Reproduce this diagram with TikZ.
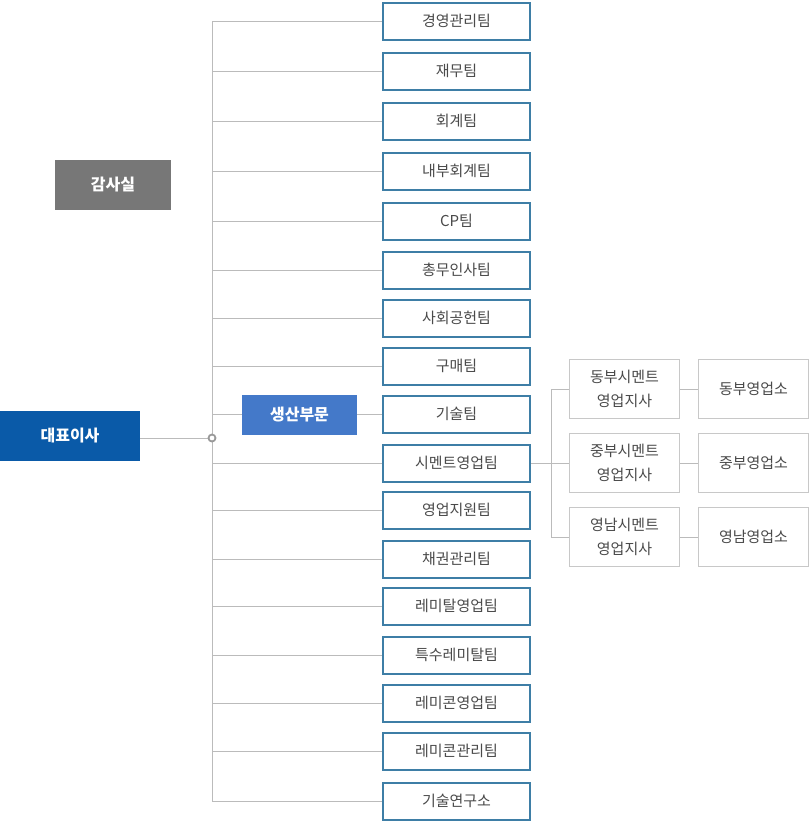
\documentclass[tikz,border=0pt]{standalone}
\usepackage{fontspec}
\setmainfont{Noto Sans CJK KR}
\definecolor{teamblue}{HTML}{3E7EA6}
\definecolor{linegray}{HTML}{BBBBBB}
\definecolor{boxgray}{HTML}{C8C8C8}
\definecolor{txtgray}{HTML}{4A4A4A}
\definecolor{ceoblue}{HTML}{0A5AA8}
\definecolor{genblue}{HTML}{4479C9}
\definecolor{auditgray}{HTML}{777777}
\tikzset{
  team/.style={draw=teamblue, line width=2pt, fill=white, minimum width=147pt, minimum height=37pt, inner sep=0pt, text=txtgray, font=\fontsize{15}{17}\selectfont},
  branch/.style={draw=boxgray, line width=1pt, fill=white, minimum width=110pt, minimum height=59pt, inner sep=0pt, text=txtgray, align=center, font=\fontsize{15}{24}\selectfont},
  solid box/.style={minimum width=#1, inner sep=0pt, text=white, font=\fontsize{16}{18}\selectfont\bfseries},
  conn/.style={draw=linegray, line width=1pt},
}
\begin{document}
\begin{tikzpicture}[x=1pt,y=-1pt]
\useasboundingbox (0,0) rectangle (810,823);
% top-level boxes
\node[solid box=140pt, fill=ceoblue, minimum height=50pt] (ceo) at (70,436) {대표이사};
\node[solid box=116pt, fill=auditgray, minimum height=50pt] (audit) at (113,184.5) {감사실};
\node[solid box=115pt, fill=genblue, minimum height=40pt] (gen) at (299.5,415) {생산부문};
\coordinate (hub) at (212,438);
% teams
\foreach \n/\y/\t in {1/21/경영관리팀,2/71/재무팀,3/121/회계팀,4/171/내부회계팀,5/221/CP팀,6/270/총무인사팀,7/318/사회공헌팀,8/366/구매팀,9/414/기술팀,10/463/시멘트영업팀,11/510/영업지원팀,12/559/채권관리팀,13/606/레미탈영업팀,14/655/특수레미탈팀,15/703/레미콘영업팀,16/751/레미콘관리팀,17/801/기술연구소}{
  \node[team] (t\n) at (456.5,\y) {\t};
}
% branches
\node[branch] (b1) at (624.5,389) {동부시멘트\\영업지사};
\node[branch] (b2) at (624.5,463) {중부시멘트\\영업지사};
\node[branch] (b3) at (624.5,537) {영남시멘트\\영업지사};
\node[branch] (o1) at (753.5,389) {동부영업소};
\node[branch] (o2) at (753.5,463) {중부영업소};
\node[branch] (o3) at (753.5,537) {영남영업소};
% connectors
\draw[conn] (t1.west -| hub) -- (t17.west -| hub);
\foreach \n in {1,2,3,4,5,6,7,8,10,11,12,13,14,15,16,17}{
  \draw[conn] (t\n.west -| hub) -- (t\n.west);
}
\draw[conn] (t9.west -| hub) -- (t9.west -| gen.west);
\draw[conn] (t9.west -| gen.east) -- (t9.west);
\draw[conn] (ceo.east |- hub) -- (hub);
\coordinate (bj) at (551,463);
\draw[conn] (t10.east) -- (bj);
\draw[conn] (b1.west -| bj) -- (b3.west -| bj);
\draw[conn] (b1.west -| bj) -- (b1.west);
\draw[conn] (b2.west -| bj) -- (b2.west);
\draw[conn] (b3.west -| bj) -- (b3.west);
\draw[conn] (b1.east) -- (o1.west);
\draw[conn] (b2.east) -- (o2.west);
\draw[conn] (b3.east) -- (o3.west);
\node[circle, draw=gray!80, line width=1.8pt, fill=white, minimum size=7pt, inner sep=0pt] (hubc) at (hub) {};
\end{tikzpicture}
\end{document}
